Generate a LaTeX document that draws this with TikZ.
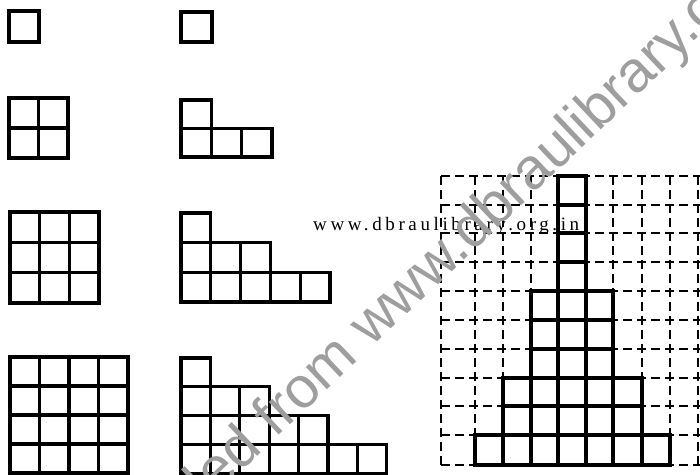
\documentclass[tikz,border=0pt]{standalone}
\usepackage{fontspec}
\newfontfamily\wmfont{Liberation Sans}
\newfontfamily\urlfont[LetterSpace=19]{Liberation Serif}
\begin{document}
\begin{tikzpicture}[x=1pt,y=-1pt,
  cellline/.style={line width=3.3pt, line join=miter, line cap=rect},
  gridline/.style={line width=2.6pt, dash pattern=on 9pt off 5pt},
  wmark/.style={rotate=43.5, anchor=base west, inner sep=0pt, text=black!38},
  urltext/.style={anchor=base west, inner sep=0pt}]
\useasboundingbox (0,0) rectangle (700,474);
\clip (0,0) rectangle (700,474);
\fill[white] (0,0) rectangle (700,474);

% left column: n x n squares
\foreach \n/\x/\y/\cw/\ch in {1/9/11/30/31, 2/9/98/29.5/30, 3/10/212/29.7/30.3, 4/10/357/29.5/29}{
  \foreach \i in {1,...,\n}{
    \foreach \j in {1,...,\n}{
      \draw[cellline] ({\x+(\i-1)*\cw},{\y+(\j-1)*\ch}) rectangle ++(\cw,\ch);
    }
  }
}

% middle column: staircases 1, 1+3, 1+3+5, 1+3+5+7
\foreach \k/\x/\y/\cw/\ch in {1/181/12/31/30, 2/181/100/30.3/28.5, 3/181/213/29.8/29.7, 4/181/358/29.4/28.8}{
  \foreach \r in {1,...,\k}{
    \pgfmathtruncatemacro\m{2*\r-1}
    \foreach \i in {1,...,\m}{
      \draw[cellline] ({\x+(\i-1)*\cw},{\y+(\r-1)*\ch}) rectangle ++(\cw,\ch);
    }
  }
}

% right: dashed grid
\foreach \x in {441,475,503,531,558,586,613,642,670,698}
  \draw[gridline] (\x,176) -- (\x,465);
\foreach \y in {176,205,233,262,291,320,349,378,406,435,465}
  \draw[gridline] (441,\y) -- (700,\y);

% solid staircase on the grid
\foreach \ya/\yb in {176/205,205/233,233/262,262/291}
  \foreach \xa/\xb in {558/586}
    \draw[cellline] (\xa,\ya) rectangle (\xb,\yb);
\foreach \ya/\yb in {291/320,320/349,349/378}
  \foreach \xa/\xb in {531/558,558/586,586/613}
    \draw[cellline] (\xa,\ya) rectangle (\xb,\yb);
\foreach \ya/\yb in {378/406,406/435}
  \foreach \xa/\xb in {503/531,531/558,558/586,586/613,613/642}
    \draw[cellline] (\xa,\ya) rectangle (\xb,\yb);
\foreach \ya/\yb in {435/465}
  \foreach \xa/\xb in {475/503,503/531,531/558,558/586,586/613,613/642,642/670}
    \draw[cellline] (\xa,\ya) rectangle (\xb,\yb);

% url text
\node[urltext] (url) at (313,230) {\urlfont\fontsize{19}{22}\selectfont www.dbraulibrary.org.in};

% watermark
\node[wmark] (wm) at (30,672) {\wmfont\fontsize{58}{62}\selectfont Downloaded from www.dbraulibrary.org.in};
\end{tikzpicture}
\end{document}
